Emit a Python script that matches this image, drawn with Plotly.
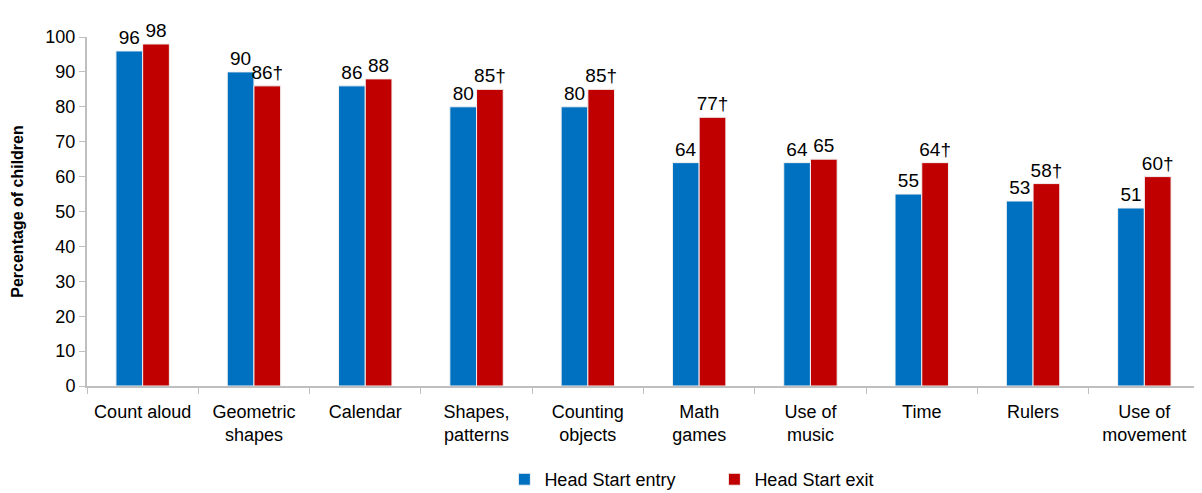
import plotly.graph_objects as go

categorias = ["Count aloud", "Geometric<br>shapes", "Calendar", "Shapes,<br>patterns",
              "Counting<br>objects", "Math<br>games", "Use of<br>music", "Time",
              "Rulers", "Use of<br>movement"]
entrada = [96, 90, 86, 80, 80, 64, 64, 55, 53, 51]
saida = [98, 86, 88, 85, 85, 77, 65, 64, 58, 60]
rotulos_entrada = ["96", "90", "86", "80", "80", "64", "64", "55", "53", "51"]
rotulos_saida = ["98", "86†", "88", "85†", "85†", "77†", "65", "64†", "58†", "60†"]

fonte = "Liberation Sans Narrow, Arial Narrow, Liberation Sans, Arial"

fig = go.Figure()

fig.add_trace(go.Bar(
    x=categorias, y=entrada, name="Head Start entry",
    text=rotulos_entrada, textposition="outside",
    marker=dict(color="#0070C0", line=dict(color="#f2f2f2", width=1)),
))

fig.add_trace(go.Bar(
    x=categorias, y=saida, name="Head Start exit",
    text=rotulos_saida, textposition="outside",
    marker=dict(color="#C00000", line=dict(color="#f2f2f2", width=1)),
))

fig.update_traces(
    outsidetextfont=dict(family=fonte, size=19, color="black"),
    cliponaxis=False,
    constraintext="none",
)

# a página tem margem de 8px no body, então a figura é menor
fig.update_layout(
    width=1194, height=485,
    margin=dict(l=79, r=2, t=29, b=107, autoexpand=False),
    plot_bgcolor="white", paper_bgcolor="white",
    font=dict(family=fonte, size=18, color="black"),
    barmode="group", bargap=0.52, bargroupgap=0.0,
    showlegend=True,
    legend=dict(orientation="h", x=0.375, xanchor="left", y=-0.215, yanchor="top",
                font=dict(size=18), itemwidth=30, entrywidth=165, entrywidthmode="pixels"),
    xaxis=dict(showline=True, linecolor="#bfbfbf", linewidth=2, automargin=False,
               ticks="outside", tickson="boundaries", ticklen=6, tickcolor="#bfbfbf",
               tickfont=dict(size=18), ticklabelstandoff=8),
    yaxis=dict(range=[0, 100], dtick=10, showgrid=False, zeroline=False, automargin=False,
               showline=True, linecolor="#bfbfbf", linewidth=2,
               ticks="outside", ticklen=6, tickcolor="#bfbfbf",
               tickfont=dict(size=18),
               title=dict(text="<b>Percentage of children</b>",
                          font=dict(family="Liberation Sans, Arial", size=16), standoff=18)),
)

fig.write_html("out.html")
